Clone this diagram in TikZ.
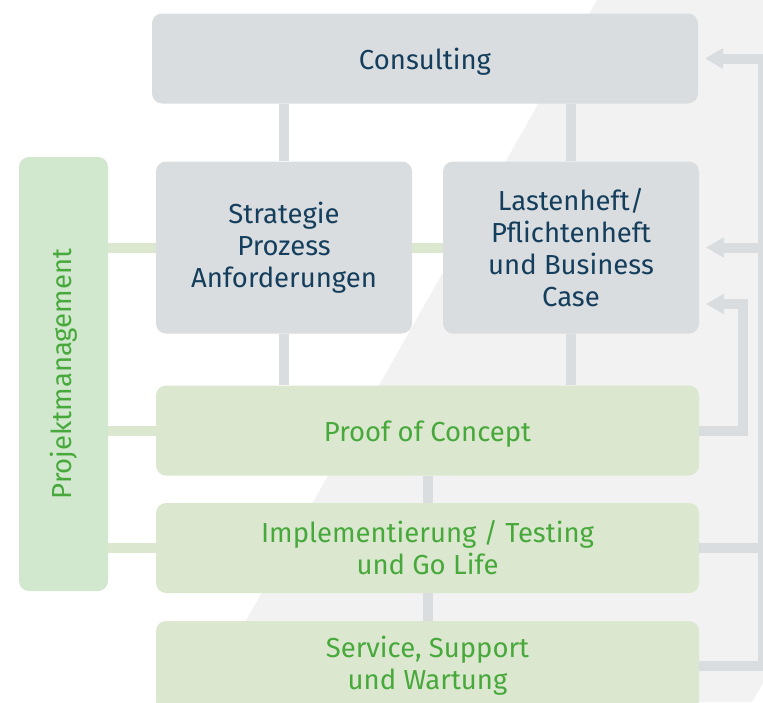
\documentclass[tikz,border=0pt]{standalone}
\usepackage{fontspec}
\setmainfont{Fira Sans}
\usetikzlibrary{arrows.meta}

\definecolor{boxgray}{RGB}{218,221,224}
\definecolor{boxgreen}{RGB}{219,232,207}
\definecolor{pmgreen}{RGB}{210,232,206}
\definecolor{txtblue}{RGB}{20,62,92}
\definecolor{txtgreen}{RGB}{71,168,59}
\definecolor{bggray}{RGB}{242,242,242}

\tikzset{
  graybox/.style  = {fill=boxgray, rounded corners=10pt, text=txtblue, align=center,
                     font=\fontsize{27.5}{32}\selectfont, inner sep=0pt,
                     execute at begin node={\rule{0pt}{27pt}}},
  greenbox/.style = {graybox, fill=boxgreen, text=txtgreen},
  grayline/.style = {draw=boxgray, line width=10pt},
  greenline/.style= {draw=boxgreen, line width=10pt},
  fbarrow/.style  = {grayline, -{Triangle[length=18pt,width=21pt,line width=0pt]}, shorten >=7pt}
}

\begin{document}
\begin{tikzpicture}[x=1pt, y=-1pt]

  \useasboundingbox (0,0) rectangle (763,702);
  \fill[white]   (0,0) rectangle (763,702);
  \fill[bggray]  (597,0) -- (763,0) -- (763,683) -- (752,702) -- (200,702) -- cycle;

  % boxes
  \node[graybox, minimum width=546pt, minimum height=90pt]  (consulting) at (425.0, 58.5) {Consulting};
  \node[graybox, minimum width=256pt, minimum height=172pt] (strategie)  at (284.0,247.5) {Strategie\\Prozess\\Anforderungen};
  \node[graybox, minimum width=256pt, minimum height=172pt] (lastenheft) at (571.0,247.5) {Lastenheft/\\Pflichtenheft\\und Business\\Case};
  \node[greenbox, minimum width=543pt, minimum height=90pt] (poc)        at (427.5,430.5) {Proof of Concept};
  \node[greenbox, minimum width=543pt, minimum height=90pt] (impl)       at (427.5,548.0) {Implementierung / Testing\\und Go Life};
  \node[greenbox, minimum width=543pt, minimum height=90pt] (service)    at (427.5,666.0) {Service, Support\\und Wartung};
  \node[greenbox, fill=pmgreen, minimum width=89pt, minimum height=434pt] (pm) at (63.5,374.0)
       {\rotatebox{90}{Projektmanagement}};

  % gray connectors
  \draw[grayline] (consulting.south -| strategie.north) -- (strategie.north);
  \draw[grayline] (consulting.south -| lastenheft.north) -- (lastenheft.north);
  \draw[grayline] (strategie.south) -- (poc.north -| strategie.south);
  \draw[grayline] (lastenheft.south) -- (poc.north -| lastenheft.south);
  \draw[grayline] (poc.south) -- (impl.north);
  \draw[grayline] (impl.south) -- (service.north);

  % green connectors
  \draw[greenline] (pm.east |- strategie.west) -- (strategie.west);
  \draw[greenline] (strategie.east) -- (lastenheft.west);
  \draw[greenline] (pm.east |- poc.west) -- (poc.west);
  \draw[greenline] (pm.east |- impl.west) -- (impl.west);

  % feedback rail
  \coordinate (rail) at (763,0);
  \coordinate (loop) at (743,304);
  \draw[grayline] (impl.east) -- (impl.east -| rail);
  \draw[fbarrow] (service.east) -| (rail |- consulting.east) -- (consulting.east);
  \draw[fbarrow] (rail |- lastenheft.east) -- (lastenheft.east);
  \draw[fbarrow] (poc.east) -| (loop) -- (lastenheft.east |- loop);

\end{tikzpicture}
\end{document}
